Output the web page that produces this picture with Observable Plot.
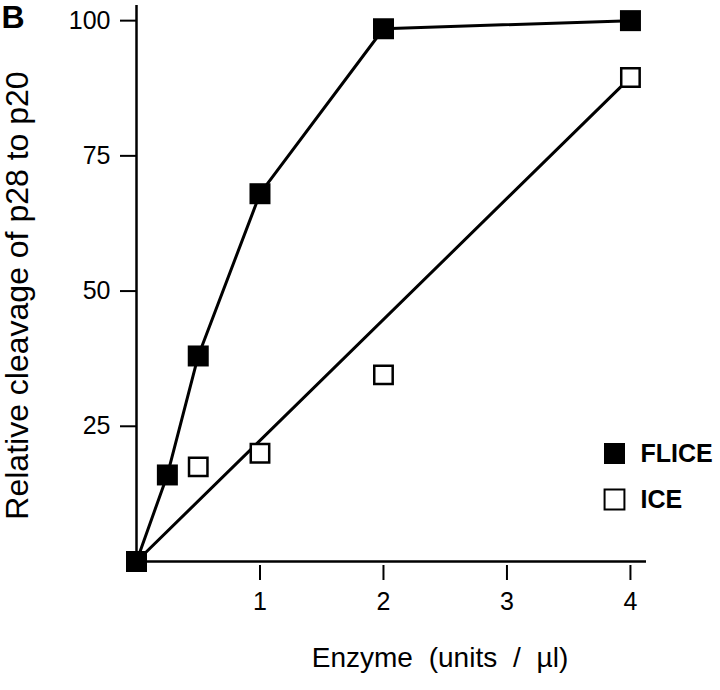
<!DOCTYPE html>
<html>
<head>
<meta charset="utf-8">
<script src="https://cdn.jsdelivr.net/npm/d3@7"></script>
<script src="https://cdn.jsdelivr.net/npm/@observablehq/plot@0.6"></script>
<style>
  html, body { margin: 0; padding: 0; background: #fff; }
  #chart { position: relative; width: 720px; height: 690px; }
</style>
</head>
<body>
<div id="chart"></div>
<script>
// Data
const fliceDoses = [0, 0.25, 0.5, 1, 2, 4];
const fliceValues = [0, 16, 38, 68, 98.5, 100];
const iceDoses = [0, 0.5, 1, 2, 4];
const iceValues = [0, 17.5, 20, 34.5, 89.5];
const iceLineDoses = [0, 4]; // ICE trend line drawn from first to last point
const xTicks = [1, 2, 3, 4];
const yTicks = [25, 50, 75, 100];
const panelLabel = "B";
const xLabel = "Enzyme (units / \u00b5l)";
const yLabel = "Relative cleavage of p28 to p20";
const seriesNames = ["FLICE", "ICE"];

const flice = fliceDoses.map((d, i) => ({dose: d, value: fliceValues[i]}));
const ice = iceDoses.map((d, i) => ({dose: d, value: iceValues[i]}));
const iceLine = iceLineDoses.map(d => ice.find(p => p.dose === d));

const font = "'Liberation Sans', Arial, Helvetica, sans-serif";

const chart = Plot.plot({
  width: 720,
  height: 690,
  marginLeft: 136,
  marginRight: 74,
  marginTop: 5,
  marginBottom: 129,
  style: {fontFamily: font, background: "#fff", color: "#000"},
  x: {domain: [0, 4.13]},
  y: {domain: [0, 102.8]},
  marks: [
    Plot.line(flice, {x: "dose", y: "value", stroke: "#000", strokeWidth: 3}),
    Plot.line(iceLine, {x: "dose", y: "value", stroke: "#000", strokeWidth: 3}),
    Plot.ruleX([0], {stroke: "#000", strokeWidth: 2.5}),
    Plot.ruleY([0], {stroke: "#000", strokeWidth: 2.5}),
    Plot.axisY(yTicks, {tickSize: 16, tickPadding: 10, fontSize: 25, strokeWidth: 2, tickFormat: d3.format("d"), label: null}),
    Plot.axisX(xTicks, {tickSize: 15, tickPadding: 12, dy: 4, fontSize: 25, strokeWidth: 2, tickFormat: d3.format("d"), label: null}),
    Plot.dot(ice, {x: "dose", y: "value", symbol: "square", r: 10.4, fill: "#fff", stroke: "#000", strokeWidth: 2.5}),
    Plot.dot(flice, {x: "dose", y: "value", symbol: "square", r: 11.85, fill: "#000", stroke: "none"}),
    // legend
    Plot.dot([seriesNames[0]], {frameAnchor: "bottom-right", dx: -32, dy: -108, symbol: "square", r: 11.85, fill: "#000", stroke: "none"}),
    Plot.dot([seriesNames[1]], {frameAnchor: "bottom-right", dx: -32, dy: -62, symbol: "square", r: 11.2, fill: "#fff", stroke: "#000", strokeWidth: 2}),
    Plot.text([seriesNames[0]], {frameAnchor: "bottom-right", dx: -6, dy: -108, textAnchor: "start", lineAnchor: "middle", fontSize: 25, fontWeight: "bold", fill: "#000"}),
    Plot.text([seriesNames[1]], {frameAnchor: "bottom-right", dx: -6, dy: -62, textAnchor: "start", lineAnchor: "middle", fontSize: 25, fontWeight: "bold", fill: "#000"}),
    // labels
    Plot.text([panelLabel], {frameAnchor: "top-left", dx: -135, dy: 0, textAnchor: "start", lineAnchor: "top", fontSize: 32, fontWeight: "bold", fill: "#000"}),
    Plot.text([yLabel], {frameAnchor: "left", dx: -131, dy: 12, rotate: -90, textAnchor: "middle", lineAnchor: "top", fontSize: 32, fill: "#000"}),
    Plot.text([xLabel], {frameAnchor: "bottom", dx: 48.5, dy: 86, textAnchor: "middle", lineAnchor: "top", fontSize: 28, fill: "#000"})
  ]
});

// widen the word gaps of the x-axis title as in the reference
chart.querySelectorAll("text").forEach(t => {
  if (t.textContent === xLabel) {
    t.setAttribute("word-spacing", "8");
  }
});

document.getElementById("chart").appendChild(chart);
</script>
</body>
</html>
